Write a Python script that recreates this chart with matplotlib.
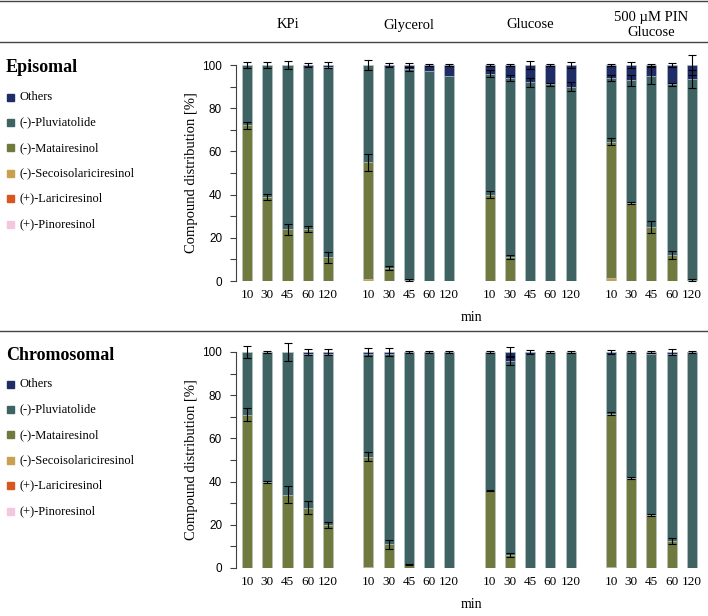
import matplotlib.pyplot as plt
from matplotlib.ticker import MultipleLocator
from matplotlib.lines import Line2D
from matplotlib.patches import Rectangle
from matplotlib.transforms import blended_transform_factory
import numpy as np

plt.rcParams['font.family'] = ['Liberation Serif', 'DejaVu Serif']

groups = ["KPi", "Glycerol", "Glucose", "500 µM PIN\nGlucose"]
times = ["10", "30", "45", "60", "120"]
compounds = ["Others", "(-)-Pluviatolide", "(-)-Matairesinol",
             "(-)-Secoisolariciresinol", "(+)-Lariciresinol", "(+)-Pinoresinol"]
colors = {"Others": "#1f2c66", "(-)-Pluviatolide": "#3f6363",
          "(-)-Matairesinol": "#707a3e", "(-)-Secoisolariciresinol": "#c9a050",
          "(+)-Lariciresinol": "#d8561f", "(+)-Pinoresinol": "#f3c8de"}

# Episomal (KPi | Glycerol | Glucose | PIN Glucose), % of total
pin_epi = [0, 0, 0, 0, 0, 0, 0, 0, 0, 0, 0, 0, 0, 0, 0, 0, 0, 0, 0, 0]
lar_epi = [0, 0, 0, 0, 0, 0, 0, 0, 0, 0, 0, 0, 0, 0, 0, 0, 0, 0, 0, 0]
seco_epi = [0, 0, 0, 0, 0, 1, 0, 0, 0, 0, 0, 0, 0, 0, 0, 1.5, 0, 0, 0, 0]
mat_epi = [72, 39, 24, 24, 11, 54, 6, 0.5, 0, 0, 40, 11, 0, 0, 0, 63, 36, 25, 12, 0.5]
plu_epi = [28, 61, 76, 75, 88, 45, 93, 97.5, 97, 95, 56, 83, 92, 91, 90, 29.5, 57, 70, 79, 93]
oth_epi = [0, 0, 0, 1, 1, 0, 1, 2, 3, 5, 4, 6, 8, 9, 10, 6, 7, 5, 9, 6.5]
mat_err_epi = [1.5, 1.5, 2.5, 1.5, 2.5, 4, 1, 0.3, 0, 0, 1.5, 1, 0, 0, 0, 1.5, 0.5, 3, 2, 0.3]
plu_err_epi = [0, 0, 0, 0, 0, 0, 0, 1, 0, 0, 1.5, 1.5, 2, 0.5, 2, 1.5, 2.5, 4, 0.5, 4]
top_err_epi = [1.5, 1.5, 2, 1, 1.5, 2.5, 1, 1, 0.5, 0.5, 0.5, 0.5, 2, 0.5, 1.5, 0.5, 1.5, 0.5, 1, 4.5]

# Chromosomal
pin_chr = [0, 0, 0, 0, 0, 0, 0, 0, 0, 0, 0, 0, 0, 0, 0, 0, 0, 0, 0, 0]
lar_chr = [0, 0, 0, 0, 0, 0, 0, 0, 0, 0, 0, 0, 0, 0, 0, 0, 0, 0, 0, 0]
seco_chr = [0, 0, 0, 0, 0, 0.5, 0, 0, 0, 0, 0, 0, 0, 0, 0, 0.5, 0, 0, 0, 0]
mat_chr = [71, 40, 34, 28, 20, 51, 11, 1.5, 0, 0, 36, 6, 0, 0, 0, 71, 41.5, 24.5, 12.5, 0]
plu_chr = [29, 60, 66, 71, 79, 47.5, 88, 98, 99.5, 99.5, 64, 90, 99, 100, 100, 27.5, 58, 74.5, 86.5, 99.5]
oth_chr = [0, 0, 0, 1, 1, 1, 1, 0.5, 0.5, 0.5, 0, 4, 1, 0, 0, 1, 0.5, 1, 1, 0.5]
mat_err_chr = [3, 0.5, 4, 3, 1.5, 2, 2, 0.3, 0, 0, 0.3, 1, 0, 0, 0, 0.5, 0.5, 0.3, 1.5, 0]
plu_err_chr = [0, 0, 0, 0, 0, 0, 0, 0, 0, 0, 0, 2, 0, 0, 0, 0, 0, 0, 0, 0]
top_err_chr = [3, 0.5, 4, 1.5, 1.5, 2, 2, 0.5, 0.5, 0.5, 0.3, 2.5, 1, 0.3, 0.3, 1, 0.5, 0.5, 1.5, 0.5]

x = np.array([g * 6 + i for g in range(len(groups)) for i in range(len(times))])

W, H = 708, 616
fig = plt.figure(figsize=(W / 100, H / 100), dpi=100)


def fy(py):
    return 1 - py / H


def draw_panel(ax, layers, errs):
    bottom = np.zeros(len(x))
    tops = []
    for name, vals in layers:
        vals = np.array(vals, dtype=float)
        ax.bar(x, vals, 0.5, bottom=bottom, color=colors[name],
               edgecolor="#b8c4c4", linewidth=0.4)
        bottom = bottom + vals
        tops.append(bottom.copy())
    # error bars at matairesinol top, pluviatolide top and total
    for lvl, e in zip([3, 4, 5], errs):
        e = np.array(e, dtype=float)
        m = e > 0
        ax.errorbar(x[m], tops[lvl][m], yerr=e[m], fmt="none", ecolor="black",
                    elinewidth=0.8, capsize=3, capthick=0.8, clip_on=False)
    ax.set_xlim(-0.55, 22.7)
    ax.set_ylim(0, 100)
    ax.yaxis.set_major_locator(MultipleLocator(20))
    ax.yaxis.set_minor_locator(MultipleLocator(10))
    ax.tick_params(axis="y", which="both", length=4, width=0.8, color="#404040",
                   labelsize=8.5, pad=6)
    for lab in ax.get_yticklabels():
        lab.set_family("Liberation Sans")
    ax.set_xticks(x)
    ax.set_xticklabels(times * len(groups), fontsize=9.5)
    ax.tick_params(axis="x", length=0, pad=6)
    for s in ["top", "right", "bottom"]:
        ax.spines[s].set_visible(False)
    ax.spines["left"].set_color("#404040")
    ax.set_ylabel("Compound distribution [%]", fontsize=10.5, labelpad=3)
    ax.set_xlabel("min", fontsize=10, labelpad=7)


ax1 = fig.add_axes([236 / W, fy(281), 470 / W, 216 / H])
ax2 = fig.add_axes([236 / W, fy(568), 470 / W, 216 / H])

draw_panel(ax1, [("(+)-Pinoresinol", pin_epi), ("(+)-Lariciresinol", lar_epi),
                 ("(-)-Secoisolariciresinol", seco_epi), ("(-)-Matairesinol", mat_epi),
                 ("(-)-Pluviatolide", plu_epi), ("Others", oth_epi)],
           [mat_err_epi, plu_err_epi, top_err_epi])
draw_panel(ax2, [("(+)-Pinoresinol", pin_chr), ("(+)-Lariciresinol", lar_chr),
                 ("(-)-Secoisolariciresinol", seco_chr), ("(-)-Matairesinol", mat_chr),
                 ("(-)-Pluviatolide", plu_chr), ("Others", oth_chr)],
           [mat_err_chr, plu_err_chr, top_err_chr])

# group headers
hdr = blended_transform_factory(ax1.transData, fig.transFigure)
for g, name in enumerate(groups):
    ax1.text(g * 6 + 2, fy(25), name, transform=hdr, ha="center", va="center",
             fontsize=10.5, linespacing=1.3, clip_on=False)

# horizontal rules
for py in [1, 42, 331]:
    fig.add_artist(Line2D([0, 1], [fy(py), fy(py)], color="#444444", lw=1.0))

# panel titles and legends
for title, py0 in [("Episomal", 68), ("Chromosomal", 355)]:
    fig.text(6 / W, fy(py0), title, fontsize=13, fontweight="bold", va="center")
    for k, name in enumerate(compounds):
        py = py0 + 29 + k * 25.4
        fig.add_artist(Rectangle((7 / W, fy(py + 3.5)), 7 / W, 7 / H,
                                 color=colors[name], transform=fig.transFigure))
        fig.text(19 / W, fy(py), name, fontsize=9, va="center")

fig.savefig("out.png", dpi=100)
